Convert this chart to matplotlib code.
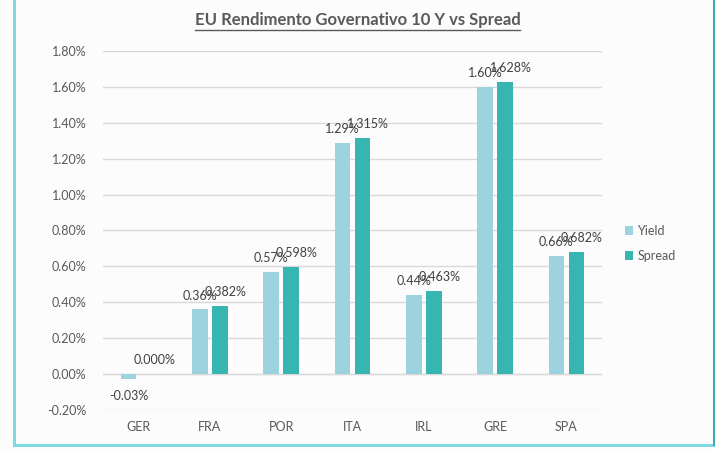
import matplotlib
matplotlib.use("Agg")
import matplotlib.pyplot as plt
import numpy as np
from matplotlib.lines import Line2D

plt.rcParams['font.family'] = ['Lato', 'DejaVu Sans']

countries = ['GER', 'FRA', 'POR', 'ITA', 'IRL', 'GRE', 'SPA']
yields = [-0.03, 0.36, 0.57, 1.29, 0.44, 1.60, 0.66]
spreads = [0.000, 0.382, 0.598, 1.315, 0.463, 1.628, 0.682]
yticks = [-0.2, 0.0, 0.2, 0.4, 0.6, 0.8, 1.0, 1.2, 1.4, 1.6, 1.8]

c_yield = '#9dd3de'
c_spread = '#37b6b1'
grey = '#595959'

fig = plt.figure(figsize=(7.15, 4.5), dpi=100)
fig.patch.set_facecolor('white')
ax = fig.add_axes([0.144, 0.0889, 0.698, 0.7978])
ax.set_facecolor('#fcfcfc')
fig.patch.set_facecolor('#fcfcfc')

x = np.arange(len(countries))
w = 0.22
off = 0.14
b1 = ax.bar(x - off, yields, w, color=c_yield, label='Yield', zorder=3)
b2 = ax.bar(x + off, spreads, w, color=c_spread, label='Spread', zorder=3)

for xi, v in zip(x, yields):
    dy = 10 if v >= 0 else -12
    ax.annotate(f'{v:.2f}%', (xi - off, v), xytext=(0, dy), textcoords='offset points',
                ha='center', va='center', fontsize=9, color='#404040', zorder=4)
for xi, v in zip(x, spreads):
    ax.annotate(f'{v:.3f}%', (xi + off, v), xytext=(4, 10), textcoords='offset points',
                ha='center', va='center', fontsize=9, color='#404040', zorder=4)

ax.set_xlim(-0.5, len(countries) - 0.5)
ax.set_ylim(-0.2, 1.8)
ax.set_yticks(yticks)
ax.set_yticklabels([f'{t:.2f}%' for t in yticks])
ax.set_xticks(x)
ax.set_xticklabels(countries)
ax.grid(axis='y', color='#d9d9d9', linewidth=1, zorder=0)
ax.axhline(0, color='#d9d9d9', linewidth=1, zorder=1)
for s in ax.spines.values():
    s.set_visible(False)
ax.tick_params(axis='both', length=0, colors=grey, labelsize=9, pad=8)
ax.tick_params(axis='y', pad=12)

leg = fig.legend(handles=[b1, b2], labels=['Yield', 'Spread'], loc='upper left',
                 bbox_to_anchor=(0.858, 0.525), frameon=False, fontsize=9,
                 handlelength=0.7, handleheight=0.7, handletextpad=0.3,
                 labelspacing=1.0, labelcolor=grey)

title = fig.text(0.5, 0.955, 'EU Rendimento Governativo 10 Y vs Spread', ha='center',
                 va='center', fontsize=12, fontweight='bold', color=grey)
fig.canvas.draw()
bb = title.get_window_extent().transformed(fig.transFigure.inverted())
fig.add_artist(Line2D([bb.x0, bb.x1], [bb.y0 - 0.004, bb.y0 - 0.004],
                      color=grey, linewidth=1, transform=fig.transFigure))

# frame of the screenshot
fig.add_artist(Line2D([0.02, 0.02], [0.011, 1.0], color='#7fd9e2', linewidth=2.2,
                      transform=fig.transFigure))
fig.add_artist(Line2D([0.02, 0.998], [0.011, 0.011], color='#7fd9e2', linewidth=2.2,
                      transform=fig.transFigure))
fig.add_artist(Line2D([0.998, 0.998], [0.011, 1.0], color='#3aaeb0', linewidth=1.5,
                      transform=fig.transFigure))

fig.savefig('out.png', dpi=100)
